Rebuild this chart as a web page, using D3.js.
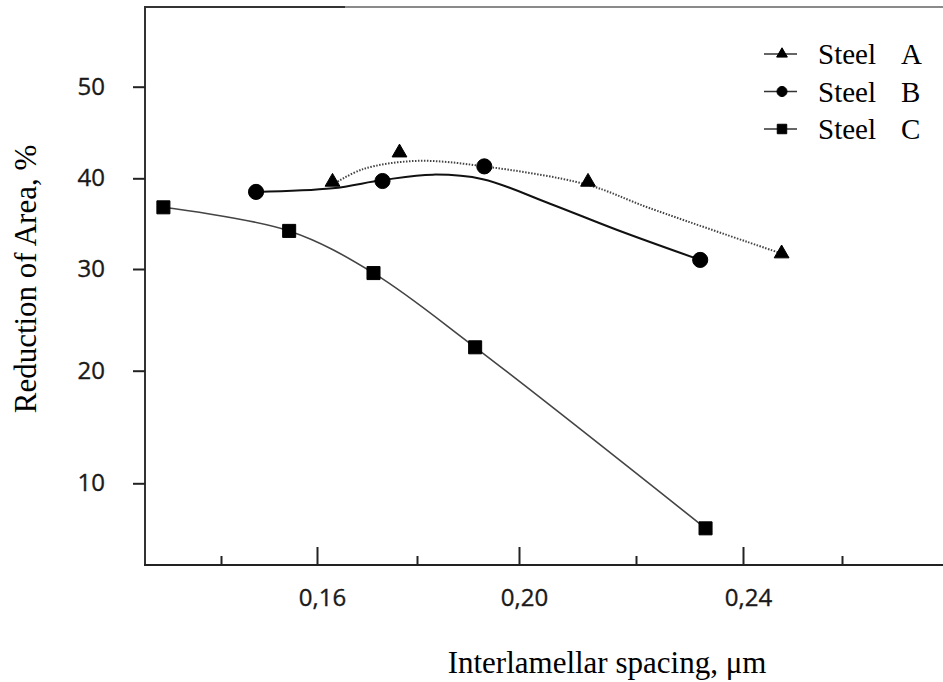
<!DOCTYPE html>
<html>
<head>
<meta charset="utf-8">
<script src="https://cdn.jsdelivr.net/npm/d3@7"></script>
<style>
  html, body { margin: 0; padding: 0; background: #fff; }
  svg { display: block; }
</style>
</head>
<body>
<div id="chart"></div>
<script>
// tick values of the two axes
const xMajor = [0.16, 0.20, 0.24];
const xMinor = [0.14, 0.18, 0.22, 0.26];
const xLabels = ['0,16', '0,20', '0,24'];
const yTicks = [10, 20, 30, 40, 50];

// measured points (interlamellar spacing µm, reduction of area %)
const steelA = [[0.1631, 39.6], [0.1765, 42.8], [0.2118, 39.6], [0.2478, 31.7]];
const steelB = [[0.1473, 38.5], [0.1731, 39.7], [0.1932, 41.3], [0.2320, 31.0]];
const steelC = [[0.1280, 36.8], [0.1542, 34.2], [0.1713, 29.6], [0.1914, 22.3], [0.2330, 6.0]];

// hand drawn trend curves
const trendA = [[0.1631, 39.3], [0.1692, 41.0], [0.1800, 41.9], [0.1932, 41.3], [0.2116, 39.3], [0.2226, 36.7], [0.2478, 31.7]];
const trendB = [[0.1473, 38.5], [0.1631, 38.9], [0.1731, 39.8], [0.1831, 40.4], [0.1929, 39.9], [0.2053, 37.2], [0.2168, 34.3], [0.2320, 31.0]];
const trendC = steelC;

const seriesNames = ['Steel', 'Steel', 'Steel'];
const seriesLetters = ['A', 'B', 'C'];

const width = 943, height = 682;

const svg = d3.select('#chart').append('svg')
  .attr('width', width)
  .attr('height', height);

// the printed axes are not quite uniform, so the scales are piecewise
const x = d3.scaleLinear()
  .domain([0.14, 0.16, 0.18, 0.20, 0.22, 0.24, 0.26])
  .range([221, 317, 417, 519, 636, 743, 842]);
const y = d3.scaleLinear()
  .domain([10, 20, 30, 40, 50])
  .range([483.3, 370.7, 269, 178.3, 86.7]);

const plotLeft = 145, plotTop = 7, plotBottom = 565;

// frame
svg.append('line')
  .attr('x1', plotLeft).attr('x2', 345).attr('y1', plotTop).attr('y2', plotTop)
  .attr('stroke', '#333').attr('stroke-width', 2);
svg.append('line')
  .attr('x1', 345).attr('x2', width).attr('y1', plotTop).attr('y2', plotTop)
  .attr('stroke', '#8a8a8a').attr('stroke-width', 2);
svg.append('line')
  .attr('x1', plotLeft).attr('x2', plotLeft).attr('y1', plotTop - 1).attr('y2', plotBottom + 1)
  .attr('stroke', '#333').attr('stroke-width', 2);
svg.append('line')
  .attr('x1', plotLeft - 1).attr('x2', width).attr('y1', plotBottom).attr('y2', plotBottom)
  .attr('stroke', '#222').attr('stroke-width', 2);

// x axis, ticks pointing into the plot
const xAxisMajor = svg.append('g')
  .attr('transform', `translate(0,${plotBottom})`)
  .call(d3.axisBottom(x).tickValues(xMajor).tickSizeInner(-18).tickSizeOuter(0).tickPadding(24)
    .tickFormat((d, i) => xLabels[i]));
const xAxisMinor = svg.append('g')
  .attr('transform', `translate(0,${plotBottom})`)
  .call(d3.axisBottom(x).tickValues(xMinor).tickSizeInner(-9).tickSizeOuter(0).tickFormat(''));

// y axis
const yAxis = svg.append('g')
  .attr('transform', `translate(${plotLeft},0)`)
  .call(d3.axisLeft(y).tickValues(yTicks).tickSizeInner(12).tickSizeOuter(0).tickPadding(28));

[xAxisMajor, xAxisMinor, yAxis].forEach(g => {
  g.select('.domain').remove();
  g.selectAll('.tick line').attr('stroke', '#222').attr('stroke-width', 2);
  g.selectAll('.tick text')
    .attr('fill', '#1a1a1a')
    .attr('stroke', '#1a1a1a')
    .attr('stroke-width', 0.35)
    .attr('font-family', '"Open Sans", "Noto Sans", sans-serif')
    .attr('font-size', 24);
});
xAxisMajor.selectAll('.tick text').attr('dx', 5);

// axis titles
svg.append('text')
  .attr('transform', 'translate(36,279) rotate(-90)')
  .attr('text-anchor', 'middle')
  .attr('font-family', '"Liberation Serif", "Times New Roman", serif')
  .attr('font-size', 31)
  .attr('fill', '#000')
  .text('Reduction of Area, %');

svg.append('text')
  .attr('x', 607).attr('y', 673)
  .attr('text-anchor', 'middle')
  .attr('font-family', '"Liberation Serif", "Times New Roman", serif')
  .attr('font-size', 31)
  .attr('fill', '#000')
  .text('Interlamellar spacing, μm');

// curves
const line = d3.line()
  .x(d => x(d[0]))
  .y(d => y(d[1]))
  .curve(d3.curveCatmullRom.alpha(0.5));

svg.append('path')
  .datum(trendC)
  .attr('d', line)
  .attr('fill', 'none')
  .attr('stroke', '#444')
  .attr('stroke-width', 1.6);

svg.append('path')
  .datum(trendB)
  .attr('d', line)
  .attr('fill', 'none')
  .attr('stroke', '#111')
  .attr('stroke-width', 2);

svg.append('path')
  .datum(trendA)
  .attr('d', line)
  .attr('fill', 'none')
  .attr('stroke', '#444')
  .attr('stroke-width', 2)
  .attr('stroke-dasharray', '1.5,1.5');

// markers
const triangle = d3.symbol(d3.symbolTriangle, 95);
const circle = d3.symbol(d3.symbolCircle, 180);
const square = d3.symbol(d3.symbolSquare, 170);

function drawMarkers(data, sym) {
  svg.append('g').selectAll('path')
    .data(data)
    .join('path')
    .attr('transform', d => `translate(${x(d[0])},${y(d[1])})`)
    .attr('d', sym)
    .attr('fill', '#000')
    .attr('stroke', '#000')
    .attr('stroke-width', 1)
    .attr('stroke-linejoin', 'round');
}
drawMarkers(steelC, square);
drawMarkers(steelB, circle);
drawMarkers(steelA, triangle);

// legend
const legendSymbols = [d3.symbol(d3.symbolTriangle, 50), d3.symbol(d3.symbolCircle, 80), d3.symbol(d3.symbolSquare, 90)];
const legend = svg.append('g');
seriesLetters.forEach((letter, i) => {
  const row = legend.append('g').attr('transform', `translate(0,${54 + i * 37.5})`);
  row.append('line')
    .attr('x1', 764).attr('x2', 797).attr('y1', 0).attr('y2', 0)
    .attr('stroke', '#333').attr('stroke-width', 1.4);
  row.append('path')
    .attr('transform', 'translate(782,0)')
    .attr('d', legendSymbols[i])
    .attr('fill', '#000')
    .attr('stroke', '#000')
    .attr('stroke-linejoin', 'round');
  row.append('text')
    .attr('x', 818).attr('y', 10)
    .attr('font-family', '"Liberation Serif", "Times New Roman", serif')
    .attr('font-size', 29)
    .attr('fill', '#000')
    .text(seriesNames[i]);
  row.append('text')
    .attr('x', 901).attr('y', 10)
    .attr('font-family', '"Liberation Serif", "Times New Roman", serif')
    .attr('font-size', 29)
    .attr('fill', '#000')
    .text(letter);
});
</script>
</body>
</html>
